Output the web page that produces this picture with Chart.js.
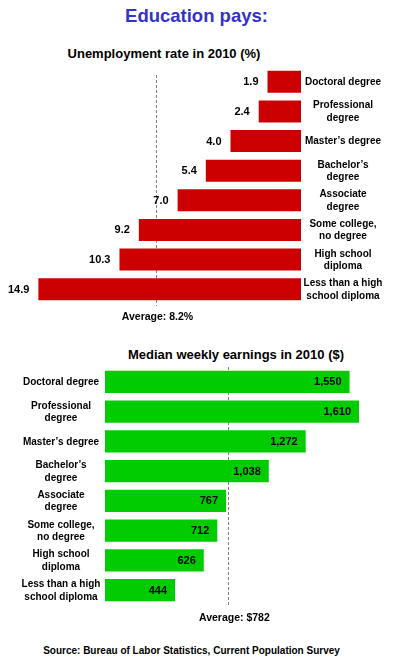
<!DOCTYPE html>
<html>
<head>
<meta charset="utf-8">
<script src="https://cdn.jsdelivr.net/npm/chart.js@4.4.1/dist/chart.umd.min.js"></script>
<style>
  body { margin: 0; background: #fff; }
  #page { position: relative; width: 395px; height: 662px; overflow: hidden; font-family: Arial, "Liberation Sans", sans-serif; font-weight: bold; }
  .txt { position: absolute; left: 0; white-space: nowrap; text-align: center; }
  canvas { position: absolute; left: 0; }
</style>
</head>
<body>
<div id="page">
  <div class="txt" style="top:7px;width:393px;font-size:18.5px;line-height:18.5px;color:#3333cc;">Education pays:</div>
  <div class="txt" style="top:46.5px;width:328px;font-size:13px;line-height:13px;color:#000;">Unemployment rate in 2010 (%)</div>
  <canvas id="unempChart" width="395" height="270" style="top:60px;"></canvas>
  <div class="txt" style="top:347.5px;width:472px;font-size:13px;line-height:13px;color:#000;">Median weekly earnings in 2010 ($)</div>
  <canvas id="earnChart" width="395" height="275" style="top:360px;"></canvas>
  <div class="txt" style="top:646px;width:383px;font-size:10px;line-height:10px;color:#000;">Source: Bureau of Labor Statistics, Current Population Survey</div>
</div>
<script>
// 학력별 카테고리 (줄바꿈은 배열로)
const categories = [
  ['Doctoral degree'],
  ['Professional', 'degree'],
  ["Master\u2019s degree"],
  ["Bachelor\u2019s", 'degree'],
  ['Associate', 'degree'],
  ['Some college,', 'no degree'],
  ['High school', 'diploma'],
  ['Less than a high', 'school diploma']
];

// 실업률 (%)
const unemployment = [1.9, 2.4, 4.0, 5.4, 7.0, 9.2, 10.3, 14.9];
const unemploymentAverage = 8.2;
const unemploymentLabels = ['1.9', '2.4', '4.0', '5.4', '7.0', '9.2', '10.3', '14.9'];

// 주간 중위 소득 ($)
const earnings = [1550, 1610, 1272, 1038, 767, 712, 626, 444];
const earningsAverage = 782;
const earningsLabels = ['1,550', '1,610', '1,272', '1,038', '767', '712', '626', '444'];

const FONT = 'Arial, "Liberation Sans", sans-serif';

// 평균 점선 + 라벨 그리는 플러그인
const overlayPlugin = {
  id: 'overlay',
  beforeDatasetsDraw(chart, args, opts) {
    const { ctx, chartArea } = chart;
    const x = chart.scales.x.getPixelForValue(opts.average);
    ctx.save();
    ctx.strokeStyle = '#808080';
    ctx.lineWidth = 1;
    ctx.setLineDash([3, 2]);
    ctx.beginPath();
    ctx.moveTo(Math.round(x) + 0.5, chartArea.top + opts.lineTopOffset);
    ctx.lineTo(Math.round(x) + 0.5, chartArea.bottom + 2);
    ctx.stroke();
    ctx.restore();
  },
  afterDatasetsDraw(chart, args, opts) {
    const { ctx, chartArea } = chart;
    const xs = chart.scales.x;
    const ys = chart.scales.y;
    ctx.save();
    ctx.fillStyle = '#000';
    ctx.textBaseline = 'middle';

    // 값 라벨
    ctx.font = 'bold 11px ' + FONT;
    opts.values.forEach((v, i) => {
      const y = ys.getPixelForValue(i);
      const xEnd = xs.getPixelForValue(v);
      if (opts.side === 'right') {
        ctx.textAlign = 'right';
        ctx.fillText(opts.valueLabels[i], xEnd - 8, y + 0.5);
      } else {
        ctx.textAlign = 'right';
        ctx.fillText(opts.valueLabels[i], xEnd - 9, y + 0.5);
      }
    });

    // 카테고리 라벨
    ctx.font = 'bold 10px ' + FONT;
    ctx.textAlign = 'center';
    categories.forEach((lines, i) => {
      const y = ys.getPixelForValue(i);
      const lh = 12.5;
      const start = y - (lines.length - 1) * lh / 2;
      lines.forEach((ln, k) => ctx.fillText(ln, opts.labelX, start + k * lh + 0.5));
    });

    // 평균 라벨
    ctx.font = 'bold 10.5px ' + FONT;
    ctx.textAlign = 'center';
    ctx.fillText(opts.averageText, xs.getPixelForValue(opts.average) + opts.avgTextShift, chartArea.bottom + opts.avgTextOffset);
    ctx.restore();
  }
};

function makeChart(id, values, color, xOpts, padding, pluginOpts) {
  return new Chart(document.getElementById(id), {
    type: 'bar',
    data: {
      labels: categories.map(c => c.join(' ')),
      datasets: [{
        data: values,
        backgroundColor: color,
        borderWidth: 0,
        barPercentage: 0.74,
        categoryPercentage: 1
      }]
    },
    options: {
      indexAxis: 'y',
      responsive: false,
      animation: false,
      layout: { padding: padding },
      scales: {
        x: Object.assign({ display: false, grid: { display: false } }, xOpts),
        y: { display: false, grid: { display: false } }
      },
      plugins: {
        legend: { display: false },
        tooltip: { enabled: false },
        overlay: pluginOpts
      }
    },
    plugins: [overlayPlugin]
  });
}

// 실업률 차트 (오른쪽 기준, 왼쪽으로 뻗음)
makeChart('unempChart', unemployment, '#cc0000',
  { reverse: true, min: 0, max: 16 },
  { left: 19, right: 94, top: 7, bottom: 26 },
  {
    side: 'left',
    values: unemployment,
    valueLabels: unemploymentLabels,
    average: unemploymentAverage,
    averageText: 'Average: 8.2%',
    labelX: 343,
    lineTopOffset: 8,
    avgTextOffset: 13.5,
    avgTextShift: 1
  });

// 소득 차트 (왼쪽 기준, 오른쪽으로 뻗음)
makeChart('earnChart', earnings, '#00cc00',
  { min: 0, max: 1800 },
  { left: 105, right: 6, top: 7, bottom: 30 },
  {
    side: 'right',
    values: earnings,
    valueLabels: earningsLabels,
    average: earningsAverage,
    averageText: 'Average: $782',
    labelX: 61,
    lineTopOffset: 0,
    avgTextOffset: 13.5,
    avgTextShift: 6
  });
</script>
</body>
</html>
